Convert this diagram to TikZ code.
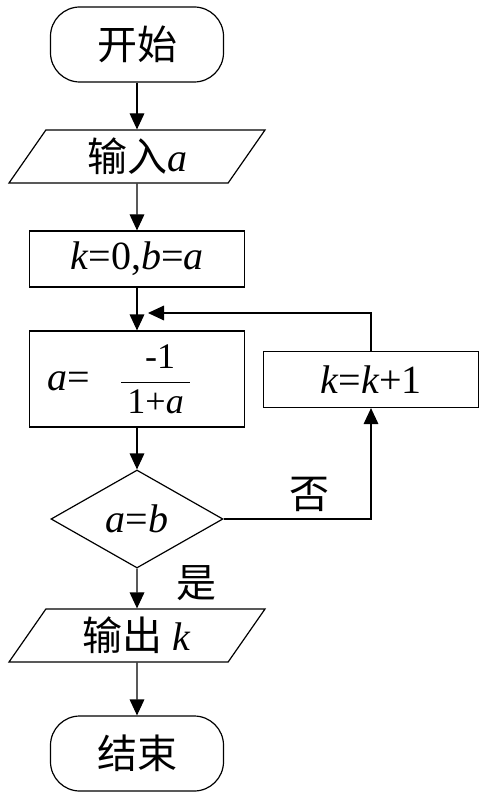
\documentclass[tikz,border=0pt]{standalone}
\usepackage{amsmath}
\usepackage{fontspec}
\setmainfont{Liberation Serif}
\newfontfamily\cjk{Noto Sans CJK SC}
\newcommand\fracsize{\fontsize{27}{30}\selectfont}
\usetikzlibrary{shapes.geometric,arrows.meta}
\tikzset{
  >={Triangle[length=12pt,width=11pt]},
  x=0.75pt, y=-0.75pt,
}
\tikzstyle{flow}=[line width=0.9pt,->]
\tikzstyle{every node}=[font=\fontsize{30}{36}\selectfont]
\tikzstyle{startstop}=[draw,line width=0.9pt,rounded corners=22pt,minimum width=129.75pt,minimum height=56.25pt]
\tikzstyle{io}=[draw,line width=0.9pt,trapezium,trapezium left angle=45,trapezium right angle=135,trapezium stretches body,minimum width=192pt,minimum height=39.75pt,inner sep=0pt]
\tikzstyle{process}=[draw,line width=0.9pt,minimum width=161.25pt,minimum height=42pt]
\tikzstyle{decision}=[draw,line width=0.9pt,diamond,aspect=1.75,minimum width=129pt,minimum height=73.5pt,inner sep=0pt]

\begin{document}
\begin{tikzpicture}
    \useasboundingbox (0,0) rectangle (487,798);
    \node[startstop] (start) at (137,44.5) {{\cjk 开始}};
    \node[io] (input) at (137,156.5) {{\cjk 输入}\textit{a}};
    \node[process] (init) at (137,259) {\textit{k}=0,\textit{b}=\textit{a}};
    \node[process,minimum height=72pt,inner sep=2pt] (calc) at (137,379)
      {\textit{a}=\hspace{22pt}$\dfrac{\text{\fracsize\ -1}}{\text{\fracsize\,1+\textit{a}\,}}$\hspace{26pt}\null};
    \node[process] (inc) at (371,379.5) {\textit{k}=\textit{k}+1};
    \node[decision] (test) at (137,519) {\textit{a}=\textit{b}};
    \node[io] (output) at (137,635.5) {{\cjk 输出} \textit{k}};
    \node[startstop] (stop) at (137,753.5) {{\cjk 结束}};
    \coordinate (back) at (148,313);

    \draw[flow] (start) -- (input);
    \draw[flow] (input) -- (init);
    \draw[flow] (init) -- (calc);
    \draw[flow] (calc) -- (test);
    \draw[flow] (test) -- (output) node[pos=0.37,right=26pt]{\cjk 是};
    \draw[flow] (output) -- (stop);
    \draw[flow] (test) -| (inc) node[pos=0.29,above=2pt]{\cjk 否};
    \draw[flow] (inc) |- (back);
  \end{tikzpicture}
\end{document}
